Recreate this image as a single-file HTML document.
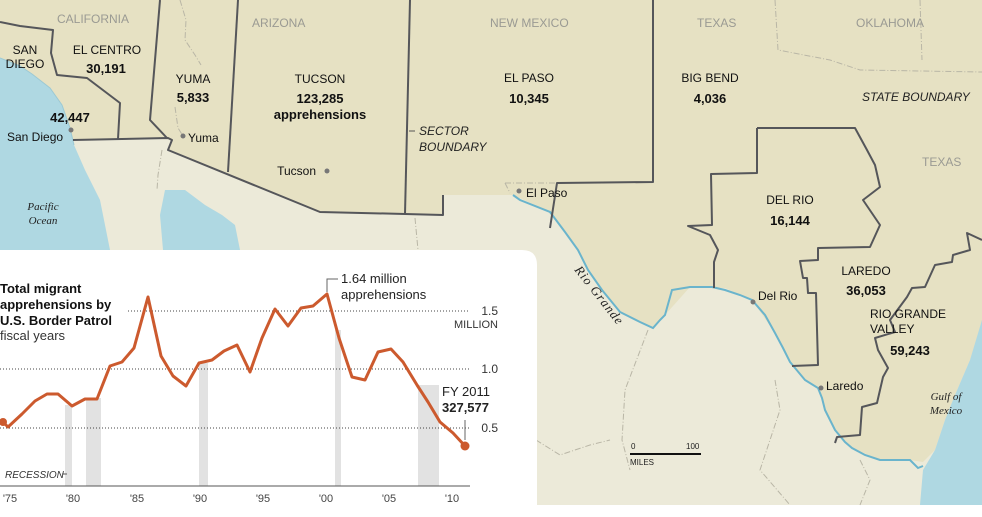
<!DOCTYPE html>
<html><head><meta charset="utf-8"><style>
html,body{margin:0;padding:0;background:#fff}
svg{display:block;font-family:"Liberation Sans",sans-serif}
</style></head><body>
<svg width="982" height="517" viewBox="0 0 982 517" xmlns="http://www.w3.org/2000/svg">
<rect width="982" height="517" fill="#fff"/>
<!-- Mexico land -->
<rect x="0" y="0" width="982" height="505" fill="#ecead9"/>
<!-- US land -->
<path d="M0,0 H982 V325 L970,360 955,395 945,420 935,450 923,462 910,460 880,460 852,448 835,430 825,410 820,390 805,380 790,362 775,333 752,300 725,288 690,287 665,315 653,328 620,312 588,270 578,250 550,212 513,195 443,195 443,215 405,214 320,212 168,150 172,140 168,138 73,140 0,140 Z" fill="#e6e1c3"/>
<!-- Pacific -->
<path d="M0,58 L20,66 32,74 50,88 62,105 70,128 74,145 85,170 100,200 110,250 0,250 Z" fill="#afd8e2"/>
<path d="M0,58 L20,66 32,74 50,88 62,105 70,128 74,145" fill="none" stroke="#9cc9d4" stroke-width="1"/>
<path d="M165,190 L185,190 205,205 222,215 235,225 240,250 163,250 160,215 Z" fill="#afd8e2"/>
<!-- Gulf -->
<path d="M982,320 L970,360 955,395 945,420 935,450 923,470 920,505 982,505 Z" fill="#afd8e2"/>
<!-- Mexico dashed internal -->
<g fill="none" stroke="#b9b6a6" stroke-width="1" stroke-dasharray="6,2,1,2">
<path d="M648,330 L625,390 622,440 630,470"/>
<path d="M536,440 L560,455 590,445 610,440"/>
<path d="M775,380 L780,410 770,440 760,470 790,505"/>
<path d="M860,460 L870,480 860,505"/>
<path d="M180,0 L186,20 185,40 195,55 201,65"/>
<path d="M175,107 L178,128 183,136"/>
<path d="M162,150 L158,175 157,190"/>
<path d="M415,218 L418,250"/>
<path d="M775,0 L778,50 830,60 860,70 982,72"/>
<path d="M920,0 L922,60"/>
<path d="M505,183 L557,183 M505,183 L510,193"/>
</g>
<!-- Rio Grande -->
<path d="M513,195 L520,200 550,212 565,232 578,250 588,270 602,290 620,312 640,322 653,328 660,320 665,315 672,290 690,287 700,287 712,287 725,290 740,295 752,300 765,315 775,333 783,348 790,362 805,380 818,388 822,398 825,410 835,430 845,442 852,448 865,455 880,460 895,460 910,460 918,468 923,466" fill="none" stroke="#6ab4cc" stroke-width="2"/>
<!-- Sector boundaries -->
<g fill="none" stroke="#55565a" stroke-width="2" stroke-linejoin="round">
<path d="M0,22 L20,26 53,30 51,53 57,75 87,78 120,103 118,139"/>
<path d="M160,0 L150,120 167,138"/>
<path d="M238,0 L228,172"/>
<path d="M410,0 L405,214"/>
<path d="M73,140 L168,138 172,140 168,150 320,212 405,214 443,215 443,195"/>
<path d="M653,0 L653,182 557,183 550,228"/>
<path d="M757,128 L757,173 711,174 712,225 688,226 710,235 718,250 714,262 714,288"/>
<path d="M757,128 L855,128 867,150 875,165 880,187 863,200 880,225 870,247 818,248 818,260 800,261 803,278 807,278 808,293 816,293 818,365 792,366"/>
<path d="M982,240 L967,233 970,250 953,255 952,262 935,265 925,287 912,288 907,297 890,320 895,332 875,338 878,350 888,368 883,377 877,403 862,407 860,435 837,437 835,443"/>
</g>
<!-- State labels -->
<g fill="#9a9a93" font-size="12">
<text x="57" y="23">CALIFORNIA</text><text x="252" y="27">ARIZONA</text>
<text x="490" y="27">NEW MEXICO</text><text x="697" y="27">TEXAS</text>
<text x="856" y="27">OKLAHOMA</text><text x="922" y="166">TEXAS</text>
</g>
<!-- Sector labels -->
<g fill="#111" font-size="12" text-anchor="middle">
<text x="25" y="54">SAN</text><text x="25" y="68">DIEGO</text>
<text x="107" y="54">EL CENTRO</text><text x="193" y="83">YUMA</text>
<text x="320" y="83">TUCSON</text><text x="529" y="82">EL PASO</text>
<text x="710" y="82">BIG BEND</text><text x="790" y="204">DEL RIO</text>
<text x="866" y="275">LAREDO</text>
<text x="870" y="318" text-anchor="start">RIO GRANDE</text><text x="870" y="333" text-anchor="start">VALLEY</text>
</g>
<g fill="#111" font-size="13" font-weight="bold" text-anchor="middle">
<text x="106" y="73">30,191</text><text x="70" y="122">42,447</text>
<text x="193" y="102">5,833</text><text x="320" y="103">123,285</text>
<text x="320" y="119">apprehensions</text><text x="529" y="103">10,345</text>
<text x="710" y="103">4,036</text><text x="790" y="225">16,144</text>
<text x="866" y="295">36,053</text><text x="910" y="355">59,243</text>
</g>
<!-- cities -->
<g fill="#777"><circle cx="71" cy="130" r="2.5"/><circle cx="183" cy="136" r="2.5"/><circle cx="327" cy="171" r="2.5"/><circle cx="519" cy="191" r="2.5"/><circle cx="753" cy="302" r="2.5"/><circle cx="821" cy="388" r="2.5"/></g>
<g fill="#111" font-size="12">
<text x="7" y="141">San Diego</text><text x="188" y="142">Yuma</text>
<text x="316" y="175" text-anchor="end">Tucson</text><text x="526" y="197">El Paso</text>
<text x="758" y="300">Del Rio</text><text x="826" y="390">Laredo</text>
</g>
<g fill="#222" font-size="12" font-style="italic">
<text x="419" y="135">SECTOR</text><text x="419" y="151">BOUNDARY</text>
<text x="862" y="101">STATE BOUNDARY</text>
</g>
<line x1="409" y1="131" x2="415" y2="131" stroke="#555"/>
<g fill="#222" font-size="11" font-style="italic" font-family="Liberation Serif,serif" text-anchor="middle">
<text x="43" y="210">Pacific</text><text x="43" y="224">Ocean</text>
<text x="946" y="400">Gulf of</text><text x="946" y="414">Mexico</text>
<text transform="translate(596,298) rotate(52)" font-size="13" letter-spacing="1">Rio Grande</text>
</g>
<!-- scale -->
<g fill="#222" font-size="8"><text x="631" y="449">0</text><text x="686" y="449">100</text><text x="630" y="465">MILES</text></g>
<line x1="630" y1="454" x2="701" y2="454" stroke="#111" stroke-width="2"/>
<!-- chart panel -->
<path d="M0,250 H522 Q537,250 537,265 V517 H0 Z" fill="#fff"/>
<g fill="#e2e2e2">
<rect x="65" y="405" width="7" height="81"/><rect x="86" y="398" width="15" height="88"/>
<rect x="199" y="363" width="9" height="123"/><rect x="335" y="330" width="6" height="156"/>
<rect x="418" y="385" width="21" height="101"/>
</g>
<g stroke="#444" stroke-width="1" stroke-dasharray="1,2">
<line x1="128" y1="311" x2="470" y2="311"/><line x1="0" y1="369" x2="470" y2="369"/><line x1="0" y1="428" x2="470" y2="428"/>
</g>
<line x1="0" y1="486" x2="470" y2="486" stroke="#555" stroke-width="1"/>
<g fill="#333" font-size="12" text-anchor="end">
<text x="498" y="315">1.5</text><text x="498" y="328" font-size="11">MILLION</text>
<text x="498" y="373">1.0</text><text x="498" y="432">0.5</text>
</g>
<g fill="#444" font-size="11" text-anchor="middle">
<text x="10" y="502">'75</text><text x="73" y="502">'80</text><text x="137" y="502">'85</text><text x="200" y="502">'90</text>
<text x="263" y="502">'95</text><text x="326" y="502">'00</text><text x="389" y="502">'05</text><text x="452" y="502">'10</text>
</g>
<text x="5" y="478" font-size="10" font-style="italic" fill="#333">RECESSION</text>
<line x1="62" y1="474" x2="67" y2="474" stroke="#555"/>
<polyline fill="none" stroke="#cc5a2e" stroke-width="3" stroke-linejoin="round" points="3,422 8,427 22,414 35,401 47,394 58,394 72,406 85,399 97,399 110,366 122,362 134,348 148,297 161,356 173,376 186,386 199,363 212,360 224,351 237,345 250,372 262,338 275,309 288,326 301,308 313,306 327,294 339,338 352,377 365,380 378,352 391,349 403,362 417,385 428,402 440,422 453,433 465,446"/>
<circle cx="3" cy="422" r="4" fill="#cc5a2e"/><circle cx="465" cy="446" r="4.5" fill="#cc5a2e"/>
<path d="M327,292 V279 H338" fill="none" stroke="#666"/>
<line x1="465" y1="420" x2="465" y2="440" stroke="#666"/>
<g fill="#222" font-size="13">
<text x="341" y="283">1.64 million</text><text x="341" y="299">apprehensions</text>
<text x="442" y="396">FY 2011</text><text x="442" y="412" font-weight="bold">327,577</text>
</g>
<g fill="#111" font-size="13" font-weight="bold">
<text x="0" y="293">Total migrant</text><text x="0" y="309">apprehensions by</text><text x="0" y="325">U.S. Border Patrol</text>
</g>
<text x="0" y="340" font-size="13" fill="#333">fiscal years</text>
</svg>
</body></html>
